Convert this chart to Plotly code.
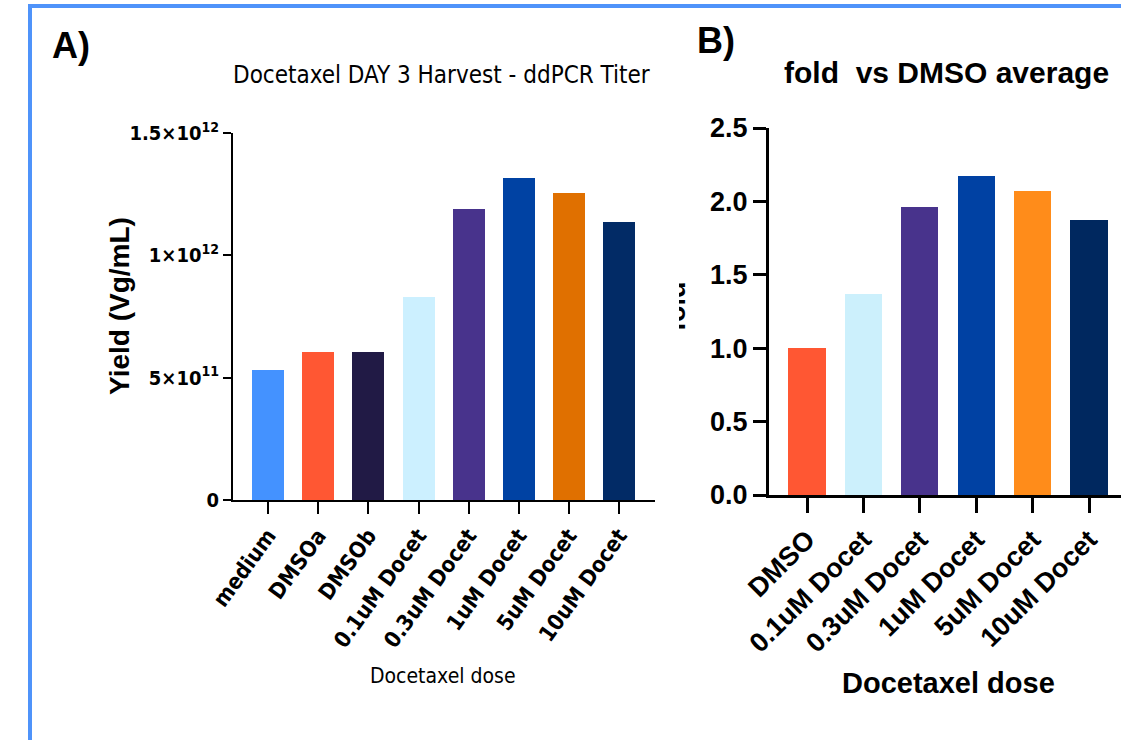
import plotly.graph_objects as go

# ---- Panel A data ----
cats_a = ["medium", "DMSOa", "DMSOb", "0.1uM Docet", "0.3uM Docet", "1uM Docet", "5uM Docet", "10uM Docet"]
yield_a = [0.53e12, 0.605e12, 0.605e12, 0.83e12, 1.19e12, 1.315e12, 1.255e12, 1.135e12]
colors_a = ["#4492FF", "#FF5733", "#211A45", "#CCF0FF", "#48338C", "#0042A3", "#E07000", "#022B66"]
ytick_vals_a = [0, 5e11, 1e12, 1.5e12]
ytick_text_a = ["0", "5×10<sup>11</sup>", "1×10<sup>12</sup>", "1.5×10<sup>12</sup>"]

# ---- Panel B data ----
cats_b = ["DMSO", "0.1uM Docet", "0.3uM Docet", "1uM Docet", "5uM Docet", "10uM Docet"]
fold_b = [1.0, 1.37, 1.965, 2.17, 2.07, 1.87]
colors_b = ["#FF5733", "#CCF0FC", "#48338C", "#0041A3", "#FF8C1A", "#00285F"]
ytick_vals_b = [0.0, 0.5, 1.0, 1.5, 2.0, 2.5]
ytick_text_b = ["0.0", "0.5", "1.0", "1.5", "2.0", "2.5"]

W, H = 1121, 740
def px(x): return x / W
def py(y): return 1 - y / H

NARROW = "Liberation Sans Narrow, Arial Narrow, DejaVu Sans Condensed, Liberation Sans, Arial"
SANS = "Liberation Sans, Arial, Helvetica"

fig = go.Figure()
fig.add_trace(go.Bar(x=list(range(len(cats_a))), y=yield_a, marker=dict(color=colors_a, line=dict(width=0)),
                     width=0.64, xaxis="x", yaxis="y", showlegend=False))
fig.add_trace(go.Bar(x=list(range(len(cats_b))), y=fold_b, marker=dict(color=colors_b, line=dict(width=0)),
                     width=0.66, xaxis="x2", yaxis="y2", showlegend=False))

fig.update_layout(
    width=W, height=H, margin=dict(l=0, r=0, t=0, b=0, autoexpand=False),
    paper_bgcolor="white", plot_bgcolor="white",
    xaxis=dict(domain=[px(233), px(655)], range=[-0.70, 7.715], tickmode="array",
               tickvals=list(range(len(cats_a))), ticktext=cats_a, tickangle=-54,
               showline=True, linecolor="black", linewidth=2, ticks="outside", ticklen=12,
               tickwidth=2, tickcolor="black", showgrid=False, zeroline=False,
               tickfont=dict(family=NARROW, size=22, color="black", weight="bold"),
               anchor="y", fixedrange=True, automargin=False),
    yaxis=dict(domain=[py(500), py(133)], range=[0, 1.5e12], tickmode="array",
               tickvals=ytick_vals_a, ticktext=ytick_text_a,
               showline=True, linecolor="black", linewidth=2, ticks="outside", ticklen=8,
               tickwidth=2, tickcolor="black", showgrid=False, zeroline=False,
               tickfont=dict(family=NARROW, size=20, color="black", weight="bold"),
               anchor="x", automargin=False),
    xaxis2=dict(domain=[px(769), 1.0], range=[-0.674, 5.567], tickmode="array",
                tickvals=list(range(len(cats_b))), ticktext=cats_b, tickangle=-45,
                showline=True, linecolor="black", linewidth=3, ticks="outside", ticklen=15,
                tickwidth=3, tickcolor="black", showgrid=False, zeroline=False,
                tickfont=dict(family=SANS, size=27, color="black", weight="bold"),
                anchor="y2", automargin=False),
    yaxis2=dict(domain=[py(495), py(128)], range=[0, 2.5], tickmode="array",
                tickvals=ytick_vals_b, ticktext=ytick_text_b,
                showline=True, linecolor="black", linewidth=3, ticks="outside", ticklen=13,
                tickwidth=3, tickcolor="black", showgrid=False, zeroline=False,
                tickfont=dict(family=SANS, size=27, color="black", weight="bold"),
                anchor="x2", automargin=False),
    bargap=0,
)

ann = [
    dict(text="A)", x=px(50), y=py(45), xanchor="left", yanchor="middle",
         font=dict(family=SANS, size=36, color="black", weight="bold")),
    dict(text="Docetaxel DAY 3 Harvest - ddPCR Titer", x=px(441), y=py(75), xanchor="center", yanchor="middle",
         font=dict(family=NARROW, size=24, color="black")),
    dict(text="Yield (Vg/mL)", x=px(119), y=py(306), xanchor="center", yanchor="middle", textangle=-90,
         font=dict(family=SANS, size=28, color="black", weight="bold")),
    dict(text="Docetaxel dose", x=px(443), y=py(676), xanchor="center", yanchor="middle",
         font=dict(family=NARROW, size=21, color="black")),
    dict(text="B)", x=px(695), y=py(40), xanchor="left", yanchor="middle",
         font=dict(family=SANS, size=36, color="black", weight="bold")),
    dict(text="fold  vs DMSO average", x=px(946), y=py(72), xanchor="center", yanchor="middle",
         font=dict(family=SANS, size=30, color="black", weight="bold")),
    dict(text="Docetaxel dose", x=px(948), y=py(683), xanchor="center", yanchor="middle",
         font=dict(family=SANS, size=29, color="black", weight="bold")),
    dict(text="fold", x=px(676), y=py(307), xanchor="center", yanchor="middle", textangle=-90,
         font=dict(family=SANS, size=27, color="black", weight="bold")),
    dict(text=" ", x=px(679), y=py(307), xanchor="right", yanchor="middle", width=30, height=90,
         bgcolor="white", borderwidth=0, borderpad=0),
]
for a in ann:
    a.update(xref="paper", yref="paper", showarrow=False)
fig.update_layout(annotations=ann)

# frame lines (left and top) of the composite image
fig.add_shape(type="line", xref="paper", yref="paper", x0=px(30), y0=0, x1=px(30), y1=py(6),
              line=dict(color="#4F93FA", width=4), layer="above")
fig.add_shape(type="line", xref="paper", yref="paper", x0=px(28), y0=py(6), x1=1, y1=py(6),
              line=dict(color="#4F93FA", width=4), layer="above")

fig.write_html("out.html", config={"displayModeBar": False},
               post_script="document.body.style.margin='0';document.body.style.overflow='hidden';"
                           "document.documentElement.style.overflow='hidden';")
